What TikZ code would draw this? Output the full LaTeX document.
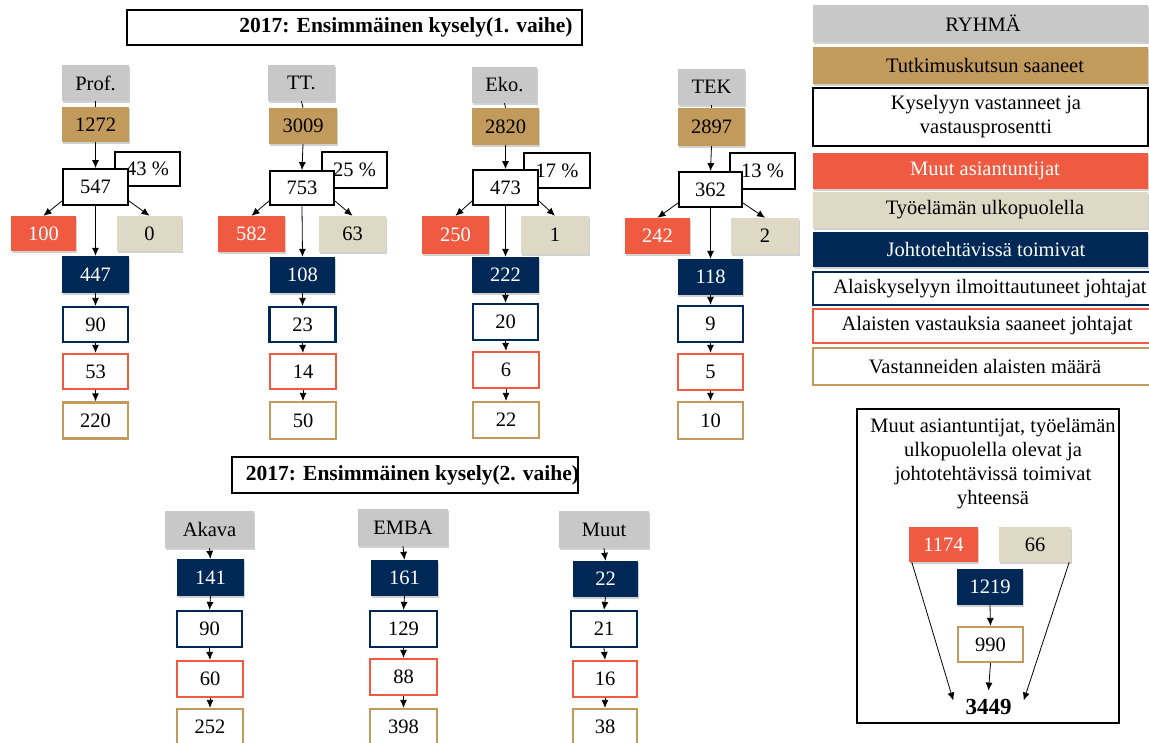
\documentclass[tikz,border=0pt]{standalone}
\usepackage{fontspec}
\setmainfont{Liberation Serif}
\usetikzlibrary{arrows.meta,shadows}
\definecolor{grayc}{HTML}{C8C8C8}
\definecolor{tanc}{HTML}{C19A5C}
\definecolor{redc}{HTML}{F05A41}
\definecolor{beigec}{HTML}{DDD9C4}
\definecolor{navyc}{HTML}{002856}
\begin{document}
\begin{tikzpicture}[x=1pt,y=-1pt,
  font=\fontsize{20.5}{24}\selectfont,
  bx/.style={inner sep=0pt,minimum width=66pt,minimum height=36pt,anchor=center},
  shd/.style={drop shadow={shadow xshift=1.2pt,shadow yshift=-1.5pt,opacity=0.18,fill=black}},
  hdr/.style={bx,fill=grayc,shd},
  tanf/.style={bx,fill=tanc,shd},
  redf/.style={bx,fill=redc,text=white,shd},
  beigef/.style={bx,fill=beigec,shd},
  navyf/.style={bx,fill=navyc,text=white,shd},
  wbox/.style={bx,draw=black,line width=1.8pt,fill=white},
  nbox/.style={bx,draw=navyc,line width=2.2pt,fill=white},
  rbox/.style={bx,draw=redc,line width=2.2pt,fill=white},
  tbox/.style={bx,draw=tanc,line width=2.2pt,fill=white},
  titlebox/.style={draw=black,line width=2.2pt,fill=white,inner sep=0pt},
  ttext/.style={font=\fontsize{21.5}{25}\selectfont\bfseries,inner sep=0pt},
  leg/.style={minimum width=335pt},
  legw/.style={minimum width=352pt},
  legt/.style={inner sep=0pt,align=center},
  arr/.style={-{Latex[length=8pt,width=7pt]},line width=0.8pt},
  ln/.style={line width=0.8pt}]
\useasboundingbox (0,0) rectangle (1149,742);
\clip (0,0) rectangle (1149,742);

% ---------- Title 1
\node[titlebox,minimum width=455pt,minimum height=35pt] (title1) at (354.5,27.5) {};
\node[ttext] (title1t) at (406,27.5) {2017: Ensimmäinen kysely(1. vaihe)};

% ---------- Column A (Prof.)
\node[hdr,minimum width=67pt] (hA) at (95.5,83) {Prof.};
\node[tanf,minimum width=67pt,minimum height=35pt] (tA) at (95.5,124.5) {1272};
\node[wbox,minimum width=65pt,minimum height=34pt] (pA) at (147.5,169) {43 \%};
\node[wbox,minimum width=65pt] (wA) at (95.5,187) {547};
\node[redf,minimum width=65pt,minimum height=35pt] (rA) at (43.5,233.5) {100};
\node[beigef,minimum width=65pt,minimum height=35pt] (eA) at (149.5,233.5) {0};
\node[navyf,minimum width=67pt,minimum height=37pt] (nA) at (95.5,274.5) {447};
\node[nbox,minimum width=65pt,minimum height=35pt] (oA) at (95.5,324.5) {90};
\node[rbox,minimum width=65pt,minimum height=35pt] (xA) at (95.5,371.5) {53};
\node[tbox,minimum width=65pt] (yA) at (95.5,420.5) {220};

% ---------- Column B (TT.)
\node[hdr,minimum width=67pt] (hB) at (301.5,83) {TT.};
\node[tanf,minimum width=68pt] (tB) at (303,126) {3009};
\node[wbox,minimum width=65pt] (pB) at (354.5,170) {25 \%};
\node[wbox,minimum width=64pt,minimum height=34pt] (wB) at (302,188) {753};
\node[redf,minimum width=67pt] (rB) at (251.5,234) {582};
\node[beigef,minimum width=67pt] (eB) at (352.5,234) {63};
\node[navyf,minimum width=65pt] (nB) at (302.5,275) {108};
\node[nbox,minimum width=66pt,minimum height=35pt] (oB) at (302.5,324.5) {23};
\node[rbox,minimum width=66pt,minimum height=35pt] (xB) at (303,371.5) {14};
\node[tbox,minimum width=66pt,minimum height=37pt] (yB) at (303,420.5) {50};

% ---------- Column C (Eko.)
\node[hdr,minimum width=65pt] (hC) at (504.5,85) {Eko.};
\node[tanf,minimum width=67pt,minimum height=37pt] (tC) at (505.5,126.5) {2820};
\node[wbox,minimum width=66pt,minimum height=35pt] (pC) at (557,170.5) {17 \%};
\node[wbox,minimum width=65pt,minimum height=35pt] (wC) at (505.5,187.5) {473};
\node[redf,minimum width=67pt,minimum height=38pt] (rC) at (455.5,235) {250};
\node[beigef,minimum width=68pt,minimum height=38pt] (eC) at (555,235) {1};
\node[navyf,minimum width=67pt] (nC) at (505.5,275) {222};
\node[nbox,minimum width=65pt] (oC) at (505.5,322) {20};
\node[rbox,minimum width=66pt] (xC) at (506,370) {6};
\node[tbox,minimum width=66pt] (yC) at (506,420) {22};

% ---------- Column D (TEK)
\node[hdr,minimum width=67pt] (hD) at (711.5,87) {TEK};
\node[tanf,minimum width=67pt,minimum height=38pt] (tD) at (711.5,127) {2897};
\node[wbox,minimum width=65pt] (pD) at (762.5,171) {13 \%};
\node[wbox,minimum width=63pt,minimum height=35pt] (wD) at (710.5,189.5) {362};
\node[redf,minimum width=65pt] (rD) at (657.5,236) {242};
\node[beigef,minimum width=68pt] (eD) at (765,236) {2};
\node[navyf,minimum width=65pt] (nD) at (710.5,277) {118};
\node[nbox,minimum width=65pt] (oD) at (710.5,324) {9};
\node[rbox,minimum width=65pt] (xD) at (710.5,372) {5};
\node[tbox,minimum width=65pt,minimum height=37pt] (yD) at (710.5,420.5) {10};

\foreach \c in {A,B,C,D}{
  \draw[ln] (h\c.south) -- (t\c.north);
  \draw[arr] (t\c.south) -- (w\c.north);
  \draw[arr] ([yshift=5pt]w\c.south west) -- (r\c.north);
  \draw[arr] ([yshift=5pt]w\c.south east) -- (e\c.north);
  \draw[arr] (w\c.south) -- (n\c.north);
  \draw[arr] (n\c.south) -- (o\c.north);
  \draw[arr] (o\c.south) -- (x\c.north);
  \draw[arr] (x\c.south) -- (y\c.north);
}

% ---------- Title 2
\node[titlebox,minimum width=346pt,minimum height=36pt] (title2) at (405,475) {};
\node[ttext] (title2t) at (412.5,475) {2017: Ensimmäinen kysely(2. vaihe)};

% ---------- Bottom columns
\node[hdr,minimum width=89pt,minimum height=37pt] (hE) at (209.5,529.5) {Akava};
\node[navyf,minimum width=67pt,minimum height=37pt] (nE) at (210.5,577.5) {141};
\node[nbox,minimum width=65pt] (oE) at (209.5,629) {90};
\node[rbox] (xE) at (210,679) {60};
\node[tbox] (yE) at (210,727) {252};

\node[hdr,minimum width=90pt,minimum height=37pt] (hF) at (403,527.5) {EMBA};
\node[navyf,minimum width=67pt] (nF) at (404.5,578) {161};
\node[nbox,minimum width=67pt] (oF) at (403.5,629) {129};
\node[rbox,minimum width=67pt] (xF) at (403.5,677) {88};
\node[tbox,minimum width=67pt] (yF) at (403.5,727) {398};

\node[hdr,minimum width=90pt,minimum height=37pt] (hG) at (604,529.5) {Muut};
\node[navyf,minimum width=65pt] (nG) at (605.5,579) {22};
\node[nbox] (oG) at (604,629) {21};
\node[rbox,minimum width=64pt] (xG) at (605,679) {16};
\node[tbox,minimum width=64pt] (yG) at (605,727) {38};

\foreach \c in {E,F,G}{
  \draw[arr] (h\c.south) -- (n\c.north);
  \draw[arr] (n\c.south) -- (o\c.north);
  \draw[arr] (o\c.south) -- (x\c.north);
  \draw[arr] (x\c.south) -- (y\c.north);
}

% ---------- Legend
\node[hdr,leg,minimum height=37pt] (L1) at (980.5,23.5) {};
\node[tanf,leg,minimum height=37pt] (L2) at (980.5,65.5) {};
\node[wbox,leg,minimum height=58pt] (L3) at (980.5,117) {};
\node[redf,leg,minimum height=36pt] (L4) at (980.5,171) {};
\node[beigef,leg,minimum height=36pt] (L5) at (980.5,210) {};
\node[navyf,leg,minimum height=35pt] (L6) at (980.5,249.5) {};
\node[nbox,legw,minimum height=33pt] (L7) at (989,288.5) {};
\node[rbox,legw,minimum height=34pt] (L8) at (989,326) {};
\node[tbox,legw,minimum height=37pt] (L9) at (989,366.5) {};
\node[legt] (L1t) at (983,23.5) {RYHMÄ};
\node[legt] (L2t) at (985,65.5) {Tutkimuskutsun saaneet};
\node[legt] (L3t) at (986,117) {Kyselyyn vastanneet ja\\vastausprosentti};
\node[legt,text=white] (L4t) at (985,171) {Muut asiantuntijat};
\node[legt] (L5t) at (985,210) {Työelämän ulkopuolella};
\node[legt,text=white] (L6t) at (986,249.5) {Johtotehtävissä toimivat};
\node[legt] (L7t) at (990,288.5) {Alaiskyselyyn ilmoittautuneet johtajat};
\node[legt] (L8t) at (987,326) {Alaisten vastauksia saaneet johtajat};
\node[legt] (L9t) at (985,366.5) {Vastanneiden alaisten määrä};

% ---------- Summary box
\node[draw=black,line width=2.2pt,minimum width=262pt,minimum height=314pt,inner sep=0pt] (sum) at (988,566) {};
\node[align=center,inner sep=0pt] (sumt) at (993,464) {Muut asiantuntijat, työelämän\\ulkopuolella olevat ja\\johtotehtävissä toimivat\\yhteensä};
\node[redf,minimum width=69pt,minimum height=35pt] (S1) at (943.5,544.5) {1174};
\node[beigef,minimum width=72pt,minimum height=35pt] (S2) at (1035,544.5) {66};
\node[navyf,minimum width=66pt] (S3) at (990,587) {1219};
\node[tbox,minimum width=65pt,minimum height=35pt] (S4) at (990.5,644.5) {990};
\node[inner sep=0pt,font=\fontsize{23}{26}\selectfont\bfseries] (tot) at (988.5,706.5) {3449};
\draw[arr] (S3.south) -- (S4.north);
\draw[arr] (S4.south) -- ([yshift=8pt]tot.north);
\draw[arr] ([xshift=3pt]S1.south west) -- ([xshift=-12pt,yshift=6pt]tot.west);
\draw[arr] ([xshift=-2pt]S2.south east) -- ([xshift=12pt,yshift=6pt]tot.east);
\end{tikzpicture}
\end{document}
